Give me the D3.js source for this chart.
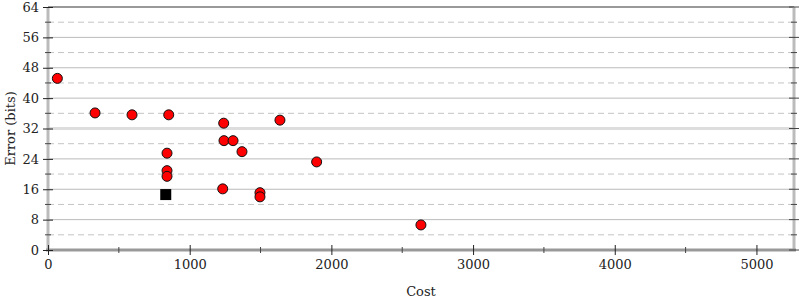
<!DOCTYPE html>
<html>
<head>
<meta charset="utf-8">
<script src="https://cdn.jsdelivr.net/npm/d3@7"></script>
<style>
	body { margin: 0; background: #fff; }
	text { font-family: "DejaVu Serif", serif; fill: #222; }
</style>
</head>
<body>
<svg width="800" height="300"></svg>
<script>
// points (cost, error bits)
const costs  = [66, 332, 593, 852, 840, 840, 840, 1240, 1242, 1306, 1369, 1637, 1896, 1233, 1496, 1496, 2632];
const errors = [45.2, 36.1, 35.6, 35.6, 25.5, 20.9, 19.4, 33.4, 28.8, 28.8, 25.9, 34.2, 23.2, 16.1, 15.1, 14.0, 6.6];
const bestCost = [831];
const bestError = [14.6];

const xTicks = [0, 1000, 2000, 3000, 4000, 5000];
const yTicks = [0, 8, 16, 24, 32, 40, 48, 56, 64];

const svg = d3.select("svg");
const plotL = 48, plotR = 794, plotT = 7, plotB = 250;

const x = d3.scaleLinear().domain([0, 5265]).range([plotL, plotR]);
const y = d3.scaleLinear().domain([0, 64]).range([plotB, plotT]);

const minorY = d3.range(4, 64, 8);
const minorX = d3.range(500, 5265, 1000);

// grid
svg.append("g").selectAll("line")
	.data(minorY).enter().append("line")
	.attr("x1", plotL).attr("x2", plotR)
	.attr("y1", d => y(d)).attr("y2", d => y(d))
	.attr("stroke", "#c4c4c4").attr("stroke-dasharray", "6,4");

svg.append("g").selectAll("line")
	.data(yTicks.filter(d => d > 0 && d < 64 && d !== 32)).enter().append("line")
	.attr("x1", plotL).attr("x2", plotR)
	.attr("y1", d => y(d)).attr("y2", d => y(d))
	.attr("stroke", "#bbb");

// lighter reference line at 32
svg.append("line")
	.attr("x1", plotL).attr("x2", plotR)
	.attr("y1", y(32)).attr("y2", y(32))
	.attr("stroke", "#ddd").attr("stroke-width", 3);

// frame
svg.append("line").attr("x1", plotL).attr("x2", plotR).attr("y1", y(64)).attr("y2", y(64))
	.attr("stroke", "#999").attr("stroke-width", 2);
svg.append("line").attr("x1", plotL).attr("x2", plotL).attr("y1", plotT).attr("y2", plotB)
	.attr("stroke", "#bbb").attr("stroke-width", 3);
svg.append("line").attr("x1", plotR).attr("x2", plotR).attr("y1", plotT).attr("y2", plotB)
	.attr("stroke", "#bbb").attr("stroke-width", 3);
svg.append("line").attr("x1", plotL - 2).attr("x2", plotR + 2).attr("y1", plotB).attr("y2", plotB)
	.attr("stroke", "#999").attr("stroke-width", 3);

// y axis ticks (left + right)
const yAxis = svg.append("g").attr("transform", `translate(${plotL},0)`)
	.call(d3.axisLeft(y).tickValues(yTicks).tickSize(5).tickPadding(4));
yAxis.select(".domain").remove();
yAxis.selectAll(".tick line").attr("x2", 5).attr("x1", -5).attr("stroke", "#222");
yAxis.selectAll(".tick text").attr("font-size", 13).attr("font-family", "DejaVu Serif");

svg.append("g").selectAll("line").data(minorY).enter().append("line")
	.attr("x1", plotL - 3).attr("x2", plotL + 3)
	.attr("y1", d => y(d)).attr("y2", d => y(d)).attr("stroke", "#444");

svg.append("g").selectAll("line").data(yTicks).enter().append("line")
	.attr("x1", plotR - 5).attr("x2", plotR + 5)
	.attr("y1", d => y(d)).attr("y2", d => y(d)).attr("stroke", "#444");
svg.append("g").selectAll("line").data(minorY).enter().append("line")
	.attr("x1", plotR - 3).attr("x2", plotR + 3)
	.attr("y1", d => y(d)).attr("y2", d => y(d)).attr("stroke", "#444");

// x axis ticks
const xAxis = svg.append("g").attr("transform", `translate(0,${plotB})`)
	.call(d3.axisBottom(x).tickValues(xTicks).tickFormat(d3.format("d")).tickSize(5).tickPadding(5));
xAxis.select(".domain").remove();
xAxis.selectAll(".tick line").attr("y1", -5).attr("y2", 5).attr("stroke", "#222");
xAxis.selectAll(".tick text").attr("font-size", 13).attr("font-family", "DejaVu Serif");

svg.append("g").selectAll("line").data(minorX).enter().append("line")
	.attr("x1", d => x(d)).attr("x2", d => x(d))
	.attr("y1", plotB - 3).attr("y2", plotB + 3).attr("stroke", "#444");

// axis titles
svg.append("text").attr("x", (plotL + plotR) / 2).attr("y", 296)
	.attr("text-anchor", "middle").attr("font-size", 13).text("Cost");
svg.append("text").attr("transform", `translate(15,${(plotT + plotB) / 2}) rotate(-90)`)
	.attr("text-anchor", "middle").attr("font-size", 13).text("Error (bits)");

// points
const pts = costs.map((c, i) => ({ cost: c, err: errors[i] }));
svg.append("g").selectAll("circle")
	.data(pts).enter().append("circle")
	.attr("cx", d => x(d.cost)).attr("cy", d => y(d.err))
	.attr("r", 5)
	.attr("fill", "#f00").attr("stroke", "#111").attr("stroke-width", 1);

const best = bestCost.map((c, i) => ({ cost: c, err: bestError[i] }));
svg.append("g").selectAll("rect")
	.data(best).enter().append("rect")
	.attr("x", d => x(d.cost) - 5.5).attr("y", d => y(d.err) - 5.5)
	.attr("width", 11).attr("height", 11)
	.attr("fill", "#000");
</script>
</body>
</html>
